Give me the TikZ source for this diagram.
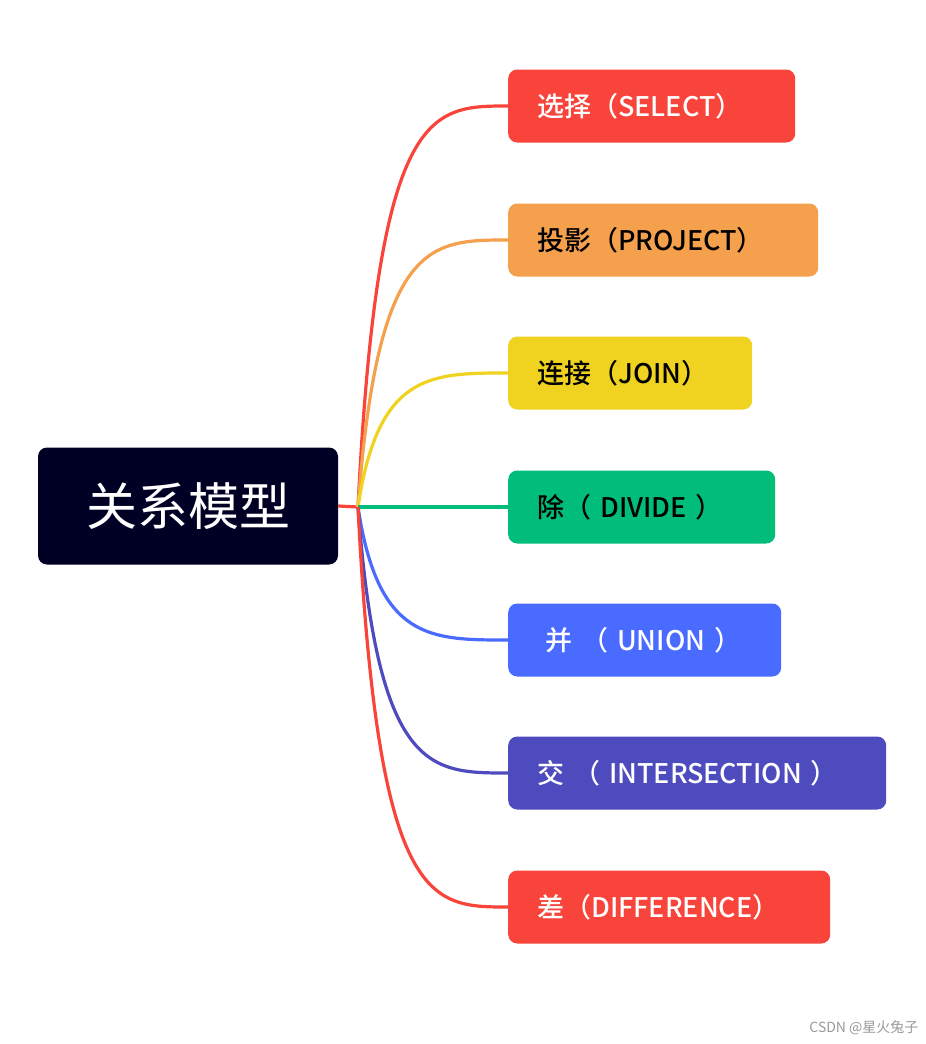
\documentclass[tikz,border=0pt]{standalone}
\usepackage{fontspec}
\setmainfont{Noto Sans CJK SC}[BoldFont={Noto Sans CJK SC Medium}]
\begin{document}
\begin{tikzpicture}[x=1pt,y=-1pt,
  leaf/.style={rounded corners=9pt,anchor=west,minimum height=73pt,inner xsep=0pt,align=left,text width=#1,font=\bfseries\fontsize{27}{30}\selectfont},
  br/.style={line width=3.2pt}]
\useasboundingbox (0,0) rectangle (926,1044);
\definecolor{cred}{HTML}{F8443A}
\definecolor{corange}{HTML}{F5A04D}
\definecolor{cyellow}{HTML}{F0D321}
\definecolor{cgreen}{HTML}{00BE79}
\definecolor{cblue}{HTML}{4A6BFF}
\definecolor{cindigo}{HTML}{4E4BBF}
\definecolor{cnavy}{HTML}{000024}
\node[fill=cnavy,rounded corners=9pt,minimum width=300pt,minimum height=117pt,text=white,font=\fontsize{51}{55}\selectfont] (root) at (188,506) {关系模型};
\coordinate (hub) at (358,507);
\draw[br,cred] (root.east) -- (hub);
\node[leaf=287pt,fill=cred,text=white] (n1) at (508,106) {\hspace*{29pt}选择（SELECT）};
\node[leaf=310pt,fill=corange,text=black] (n2) at (508,240) {\hspace*{29pt}投影（PROJECT）};
\node[leaf=244pt,fill=cyellow,text=black] (n3) at (508,373) {\hspace*{29pt}连接（JOIN）};
\node[leaf=267pt,fill=cgreen,text=black] (n4) at (508,507) {\hspace*{29pt}除（ DIVIDE ）};
\node[leaf=273pt,fill=cblue,text=white] (n5) at (508,640) {\hspace*{37pt}并 （ UNION ）};
\node[leaf=378pt,fill=cindigo,text=white] (n6) at (508,773) {\hspace*{29pt}交 （ INTERSECTION ）};
\node[leaf=322pt,fill=cred,text=white] (n7) at (508,907) {\hspace*{29pt}差（DIFFERENCE）};
\draw[br,cred] (hub) .. controls (378,106) and (430,106) .. (n1.west);
\draw[br,corange] (hub) .. controls (378,240) and (430,240) .. (n2.west);
\draw[br,cyellow] (hub) .. controls (378,373) and (430,373) .. (n3.west);
\draw[br,cgreen] (hub) -- (n4.west);
\draw[br,cblue] (hub) .. controls (378,640) and (430,640) .. (n5.west);
\draw[br,cindigo] (hub) .. controls (378,773) and (430,773) .. (n6.west);
\draw[br,cred] (hub) .. controls (378,907) and (430,907) .. (n7.west);
\node[text=black!40,font=\fontsize{14}{16}\selectfont,anchor=east] (wm) at (922,1028) {CSDN @星火兔子};
\end{tikzpicture}
\end{document}
